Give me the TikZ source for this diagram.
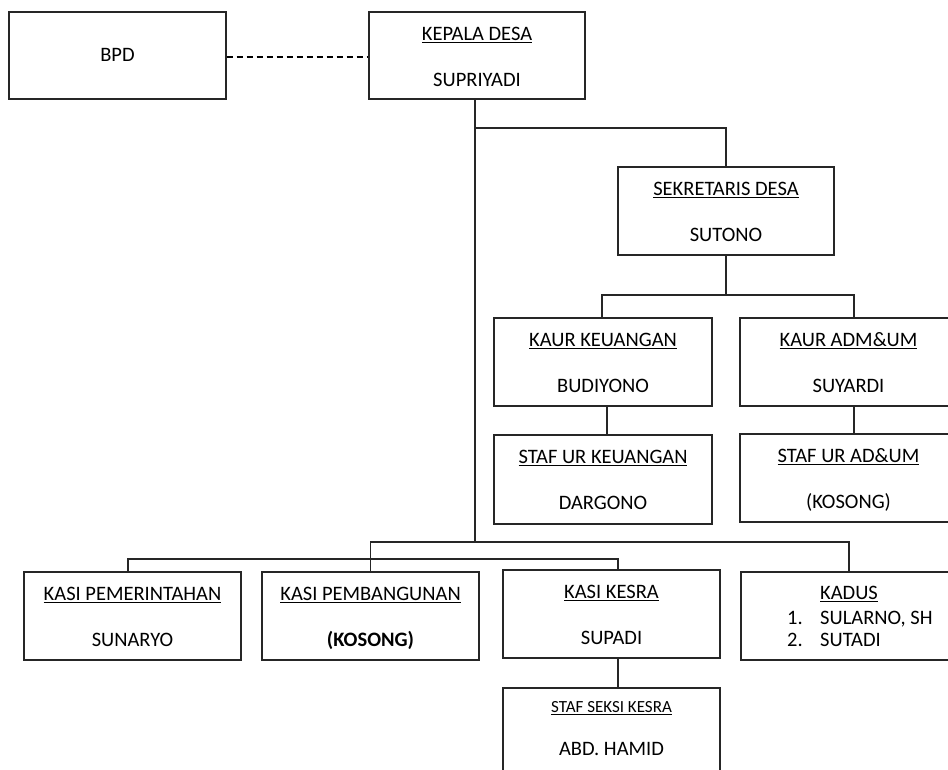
\documentclass[tikz,border=0pt]{standalone}
\usepackage{fontspec}
\setmainfont{Carlito}
\usetikzlibrary{fit}
\tikzset{
  orgbox/.style={draw=black!85, line width=1.4pt, inner sep=0pt, rectangle},
  conn/.style={draw=black!85, line width=1.3pt},
  txt/.style={font=\fontsize{20.5}{24}\selectfont, inner sep=0pt, anchor=base, text=black},
  smalltxt/.style={font=\fontsize{17}{20}\selectfont, inner sep=0pt, anchor=base, text=black},
}
% name, x1, y1, x2, y2, title, person
\newcommand\OrgUnit[7]{%
  \node[orgbox, fit={(#2,#3) (#4,#5)}] (#1) {};
  \node[txt] (#1t) at ({(#2+#4)/2},{#3+28.5}) {\underline{#6}};
  \node[txt] (#1n) at ({(#2+#4)/2},{#3+74}) {#7};
}
\begin{document}
\begin{tikzpicture}[x=1pt,y=-1pt]
\useasboundingbox (0,0) rectangle (948,769);
\clip (0,0) rectangle (948,769);

% boxes
\node[orgbox, fit={(9,12) (226,99)}] (bpd) {};
\node[txt] (bpdt) at (117.5,61.5) {BPD};
\OrgUnit{kd}{369}{12}{585}{99}{KEPALA DESA}{SUPRIYADI}
\OrgUnit{sek}{618}{167}{834}{255}{SEKRETARIS DESA}{SUTONO}
\OrgUnit{kkeu}{494}{318}{712}{406}{KAUR KEUANGAN}{BUDIYONO}
\OrgUnit{kadm}{740}{318}{957}{406}{KAUR ADM\&UM}{SUYARDI}
\OrgUnit{skeu}{494}{435}{712}{524}{STAF UR KEUANGAN}{DARGONO}
\OrgUnit{sadm}{740}{434}{957}{522}{STAF UR AD\&UM}{(KOSONG)}
\OrgUnit{pem}{24}{572}{241}{660}{KASI PEMERINTAHAN}{SUNARYO}
\OrgUnit{pemb}{262}{572}{479}{660}{KASI PEMBANGUNAN}{\bfseries (KOSONG)}
\OrgUnit{kesra}{503}{570}{720}{658}{KASI KESRA}{SUPADI}

% kadus
\node[orgbox, fit={(741,572) (957,660)}] (kadus) {};
\node[txt] (kadust) at (849,599.5) {\underline{KADUS}};
\node[txt, anchor=base west] (kadus1n) at (787,624.5) {1.};
\node[txt, anchor=base west] (kadus1) at (820,624.5) {SULARNO, SH};
\node[txt, anchor=base west] (kadus2n) at (787,646.5) {2.};
\node[txt, anchor=base west] (kadus2) at (820,646.5) {SUTADI};

% staf seksi kesra
\node[orgbox, fit={(503,688) (720,776)}] (sks) {};
\node[smalltxt] (skst) at (611.5,712.5) {\underline{STAF SEKSI KESRA}};
\node[txt] (sksn) at (611.5,755.5) {ABD. HAMID};

% junction coordinates
\coordinate (j1) at (475,128);
\coordinate (j2) at (475,542);
\coordinate (b2l) at (128,559);
\coordinate (b2r) at (618,559);
\coordinate (b3l) at (602,295);
\coordinate (b3r) at (854,295);
\coordinate (dy) at (0,57);

% connectors
\draw[conn, line width=1.6pt, draw=black, dash pattern=on 6pt off 4pt] (bpd.east |- dy) -- (kd.west |- dy);
\draw[conn] (kd.south -| j1) -- (j1) -| (sek.north);
\draw[conn] (j1) -- (j2);
\draw[conn] (pemb.north) |- (j2) -| (kadus.north);
\draw[conn] (pem.north -| b2l) -- (b2l) -- (b2r) -- (kesra.north -| b2r);
\draw[conn] (sek.south) -- (sek.south |- b3l);
\draw[conn] (kkeu.north -| b3l) -- (b3l) -- (b3r) -- (kadm.north -| b3r);
\draw[conn] (kkeu.south -| 607,0) -- (skeu.north -| 607,0);
\draw[conn] (kadm.south -| b3r) -- (sadm.north -| b3r);
\draw[conn] (kesra.south -| b2r) -- (sks.north -| b2r);
\end{tikzpicture}
\end{document}
